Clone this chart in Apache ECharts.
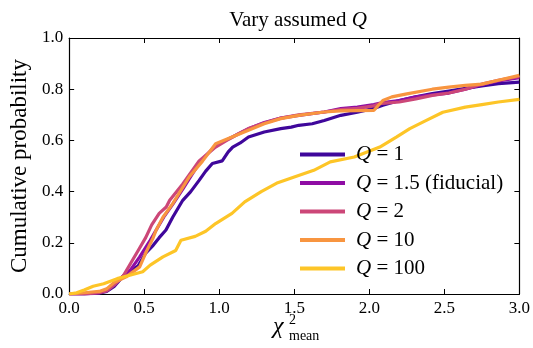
<!DOCTYPE html>
<html>
<head>
<meta charset="utf-8">
<script src="https://cdn.jsdelivr.net/npm/echarts@6/dist/echarts.min.js"></script>
<style>html,body{margin:0;padding:0;background:#fff}#c{width:533px;height:348px}</style>
</head>
<body>
<div id="c"></div>
<script>
var seriesNames = ['Q = 1', 'Q = 1.5 (fiducial)', 'Q = 2', 'Q = 10', 'Q = 100'];
var seriesColors = ['#3f079b', '#8f0da4', '#cc4778', '#f89540', '#fdc527'];
var xTicks = ['0.0', '0.5', '1.0', '1.5', '2.0', '2.5', '3.0'];
var yTicks = ['0.0', '0.2', '0.4', '0.6', '0.8', '1.0'];

var q1Data = [[0,0],[0.1,0.0],[0.2,0.003],[0.25,0.01],[0.30,0.03],[0.36,0.07],[0.41,0.09],[0.46,0.11],[0.51,0.16],[0.56,0.19],[0.60,0.22],[0.645,0.25],[0.69,0.30],[0.757,0.366],[0.81,0.40],[0.866,0.444],[0.91,0.48],[0.954,0.51],[1.02,0.52],[1.06,0.555],[1.09,0.574],[1.14,0.59],[1.195,0.613],[1.30,0.633],[1.41,0.646],[1.48,0.652],[1.53,0.659],[1.62,0.665],[1.70,0.678],[1.81,0.698],[1.92,0.71],[2.03,0.725],[2.09,0.737],[2.20,0.756],[2.31,0.77],[2.42,0.783],[2.53,0.793],[2.64,0.803],[2.75,0.813],[2.86,0.822],[3.0,0.828]];
var q15Data = [[0,0],[0.1,0.0],[0.2,0.005],[0.25,0.015],[0.30,0.04],[0.36,0.07],[0.41,0.095],[0.47,0.145],[0.54,0.21],[0.58,0.25],[0.63,0.30],[0.69,0.35],[0.757,0.41],[0.80,0.45],[0.866,0.51],[0.91,0.54],[0.976,0.58],[1.085,0.613],[1.195,0.646],[1.30,0.67],[1.41,0.687],[1.53,0.698],[1.70,0.711],[1.81,0.724],[1.92,0.73],[2.03,0.74],[2.09,0.748],[2.20,0.756],[2.31,0.77],[2.42,0.778],[2.53,0.785],[2.64,0.80],[2.75,0.818],[2.86,0.832],[3.0,0.845]];
var q2Data = [[0,0],[0.1,0.0],[0.2,0.005],[0.25,0.012],[0.30,0.035],[0.36,0.07],[0.41,0.12],[0.46,0.17],[0.51,0.22],[0.55,0.27],[0.60,0.315],[0.647,0.34],[0.67,0.366],[0.757,0.43],[0.866,0.52],[0.976,0.574],[1.05,0.60],[1.13,0.626],[1.195,0.646],[1.30,0.668],[1.41,0.687],[1.53,0.70],[1.70,0.711],[1.81,0.72],[1.92,0.725],[2.03,0.735],[2.07,0.744],[2.20,0.75],[2.31,0.762],[2.42,0.776],[2.53,0.785],[2.64,0.80],[2.75,0.82],[2.86,0.835],[3.0,0.85]];
var q10Data = [[0,0],[0.1,0.005],[0.2,0.01],[0.25,0.02],[0.30,0.045],[0.38,0.067],[0.47,0.106],[0.51,0.16],[0.56,0.22],[0.58,0.25],[0.625,0.30],[0.69,0.353],[0.80,0.457],[0.89,0.52],[0.976,0.587],[1.085,0.613],[1.195,0.64],[1.30,0.665],[1.41,0.685],[1.53,0.698],[1.70,0.711],[1.81,0.715],[1.92,0.716],[2.03,0.717],[2.09,0.756],[2.15,0.77],[2.25,0.782],[2.42,0.80],[2.53,0.808],[2.64,0.815],[2.75,0.82],[2.86,0.835],[3.0,0.854]];
var q100Data = [[0,0],[0.05,0.005],[0.1,0.016],[0.16,0.03],[0.23,0.04],[0.32,0.06],[0.41,0.074],[0.49,0.087],[0.54,0.113],[0.625,0.145],[0.71,0.17],[0.745,0.21],[0.84,0.225],[0.91,0.245],[0.976,0.275],[1.085,0.315],[1.17,0.36],[1.28,0.40],[1.39,0.435],[1.50,0.457],[1.63,0.483],[1.74,0.516],[1.90,0.535],[2.07,0.574],[2.18,0.613],[2.27,0.646],[2.38,0.678],[2.49,0.71],[2.64,0.73],[2.75,0.74],[2.86,0.75],[3.0,0.76]];
var allData = [q1Data, q15Data, q2Data, q10Data, q100Data];

var FONT = 'Liberation Serif';
var chart = echarts.init(document.getElementById('c'), null, {renderer: 'canvas'});

function axisBase(pos, showLabel, isX) {
  return {
    type: 'value', position: pos,
    min: 0, max: isX ? 3 : 1, interval: isX ? 0.5 : 0.2,
    axisLine: {show: true, onZero: false, lineStyle: {color: '#000', width: 1.2}},
    axisTick: {show: true, inside: true, length: 5, lineStyle: {color: '#000', width: 1}},
    splitLine: {show: false},
    axisLabel: {
      show: showLabel, color: '#000', fontFamily: FONT, fontSize: 17, margin: 6,
      formatter: function (v) {
        var arr = isX ? xTicks : yTicks;
        var idx = Math.round(v / (isX ? 0.5 : 0.2));
        return arr[idx];
      }
    }
  };
}

var xMain = axisBase('bottom', true, true);
var xTop = axisBase('top', false, true);
var yMain = axisBase('left', true, false);
yMain.name = 'Cumulative probability';
yMain.nameLocation = 'middle';
yMain.nameGap = 38;
yMain.nameTextStyle = {fontFamily: FONT, fontSize: 23, color: '#000'};
var yRight = axisBase('right', false, false);

var option = {
  animation: false,
  backgroundColor: '#fff',
  title: {
    text: 'Vary assumed {i|Q}',
    left: 293, top: 5, textAlign: 'center',
    textStyle: {
      fontFamily: FONT, fontSize: 21, fontWeight: 'normal', color: '#000',
      rich: {i: {fontFamily: FONT, fontSize: 21, fontStyle: 'italic', color: '#000'}}
    }
  },
  grid: {left: 66, right: 10, top: 38, bottom: 54, containLabel: false},
  xAxis: [xMain, xTop],
  yAxis: [yMain, yRight],
  legend: {
    orient: 'vertical', left: 295, top: 139,
    itemWidth: 45, itemHeight: 4, itemGap: 7.5,
    icon: 'rect',
    data: seriesNames,
    formatter: function (name) { return name.replace('Q', '{i|Q}'); },
    textStyle: {
      fontFamily: FONT, fontSize: 21, color: '#000', padding: [0, 0, 0, 6],
      rich: {i: {fontFamily: FONT, fontSize: 21, fontStyle: 'italic', color: '#000'}}
    }
  },
  graphic: [
    {type: 'text', left: 273, top: 315, style: {text: 'χ', font: 'italic 24px "Liberation Serif"', fill: '#000'}},
    {type: 'text', left: 289, top: 313, style: {text: '2', font: '14px "Liberation Serif"', fill: '#000'}},
    {type: 'text', left: 289, top: 329, style: {text: 'mean', font: '14px "Liberation Serif"', fill: '#000'}}
  ],
  series: seriesNames.map(function (n, i) {
    return {
      name: n, type: 'line', data: allData[i], showSymbol: false, symbol: 'none',
      lineStyle: {color: seriesColors[i], width: 3.2}, itemStyle: {color: seriesColors[i]},
      clip: true
    };
  })
};
chart.setOption(option);
</script>
</body>
</html>
